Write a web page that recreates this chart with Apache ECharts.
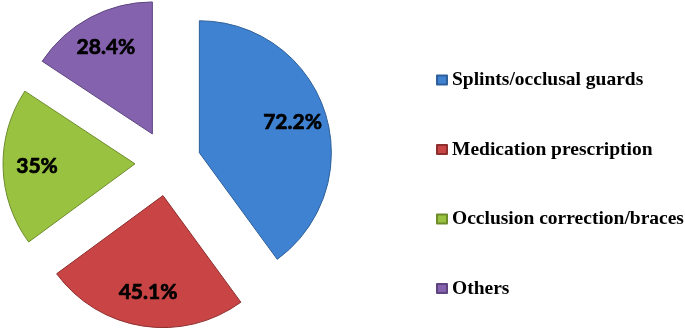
<!DOCTYPE html>
<html>
<head>
<meta charset="utf-8">
<script src="https://cdn.jsdelivr.net/npm/echarts@6/dist/echarts.min.js"></script>
<style>
html,body{margin:0;padding:0;background:#fff;}
#chart{width:685px;height:335px;}
</style>
</head>
<body>
<div id="chart"></div>
<script>
const categories = ['Splints/occlusal guards', 'Medication prescription', 'Occlusion correction/braces', 'Others'];
const values = [72.2, 45.1, 35, 28.4];
const valueLabels = ['72.2%', '45.1%', '35%', '28.4%'];
const colors = ['#3F82D2', '#C94444', '#98C23F', '#8562AE'];
const borders = ['#2F5F99', '#8E2F2F', '#6E8C2C', '#5E4580'];

const chart = echarts.init(document.getElementById('chart'), null, {renderer: 'canvas'});

const mainData = categories.map((c, i) => ({
  name: c, value: values[i], selected: true,
  itemStyle: {color: colors[i], borderColor: borders[i], borderWidth: 1},
  select: {itemStyle: {color: colors[i], borderColor: borders[i], borderWidth: 1}}
}));
const labelData = categories.map((c, i) => ({
  name: c, value: values[i], selected: true,
  label: {formatter: valueLabels[i]}
}));

chart.setOption({
  animation: false,
  legend: {
    orient: 'vertical',
    left: 431,
    top: 64,
    icon: 'rect',
    itemWidth: 10,
    itemHeight: 9,
    itemGap: 47.5,
    selectedMode: false,
    data: categories,
    textStyle: {fontFamily: 'Liberation Serif', fontWeight: 'bold', fontSize: 19.5, color: '#000', lineHeight: 22}
  },
  series: [
    {
      type: 'pie',
      center: [168, 163],
      radius: [0, 132],
      startAngle: 90,
      clockwise: true,
      selectedMode: 'multiple',
      selectedOffset: 33,
      label: {show: false},
      labelLine: {show: false},
      emphasis: {disabled: true},
      data: mainData
    },
    {
      type: 'pie',
      silent: true,
      center: [168, 163],
      radius: [0, 190],
      startAngle: 90,
      clockwise: true,
      selectedMode: 'multiple',
      selectedOffset: 33,
      itemStyle: {color: 'rgba(0,0,0,0)', borderWidth: 0},
      select: {itemStyle: {color: 'rgba(0,0,0,0)', borderWidth: 0}},
      emphasis: {disabled: true},
      labelLine: {show: false},
      label: {show: true, position: 'inside', fontFamily: 'Lato', fontWeight: 'bold', fontSize: 21, color: '#000', textBorderColor: '#000', textBorderWidth: 0.7},
      data: labelData
    }
  ]
});
</script>
</body>
</html>
